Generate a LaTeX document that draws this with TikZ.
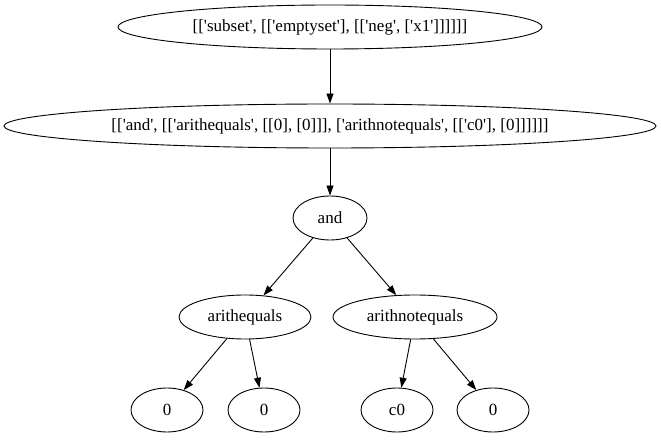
\documentclass[tikz,border=0pt]{standalone}
\usepackage{fontspec}
\setmainfont{Liberation Serif}
\usetikzlibrary{arrows.meta,shapes.geometric}
\newcommand{\lbl}[1]{\makebox[0pt]{#1}}
\newcommand{\q}{\textquotesingle}
\begin{document}
\begin{tikzpicture}
[x=1pt,y=-1pt,-{Triangle[length=10pt,width=7pt]},line width=0.9pt,
tn/.style={ellipse,draw,inner sep=0pt,minimum height=44pt,font=\fontsize{17}{19}\selectfont}]
\useasboundingbox (0,0) rectangle (661,443);
\node (v1) at (330,27) [tn,minimum width=424pt] {\lbl{[[\q subset\q, [[\q emptyset\q], [[\q neg\q, [\q x1\q]]]]]]}};
\node (v2) at (330,126) [tn,minimum width=652pt] {\lbl{[[\q and\q, [[\q arithequals\q, [[0], [0]]], [\q arithnotequals\q, [[\q c0\q], [0]]]]]]}};
\node (v3) at (330,218) [tn,minimum width=74pt] {\lbl{and}};
\node (v4) at (245,317) [tn,minimum width=132pt] {\lbl{arithequals}};
\node (v5) at (415,317) [tn,minimum width=164pt] {\lbl{arithnotequals}};
\node (v6) at (167,410) [tn,minimum width=72pt] {\lbl{0}};
\node (v7) at (264,410) [tn,minimum width=72pt] {\lbl{0}};
\node (v8) at (397,410) [tn,minimum width=72pt] {\lbl{c0}};
\node (v9) at (493,410) [tn,minimum width=72pt] {\lbl{0}};

\draw (v1) edge (v2);
\draw (v2) edge (v3);
\draw (v3) edge (v4);
\draw (v3) edge (v5);
\draw (v4) edge (v6);
\draw (v4) edge (v7);
\draw (v5) edge (v8);
\draw (v5) edge (v9);
\end{tikzpicture}
\end{document}
